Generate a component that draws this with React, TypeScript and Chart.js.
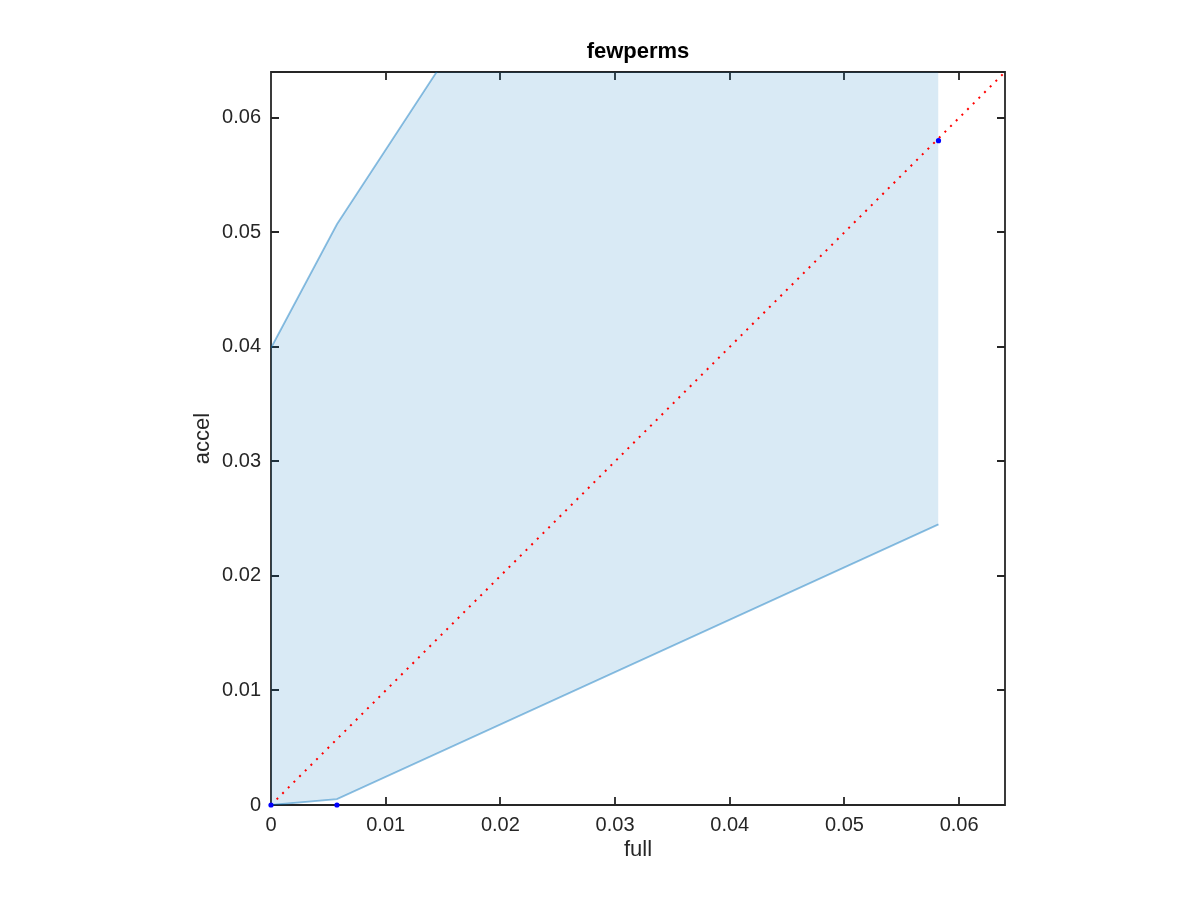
import React, { useEffect, useRef } from "react";
import { Chart, registerables } from "chart.js";

Chart.register(...registerables);

const TITLE = "fewperms";
const X_LABEL = "full";
const Y_LABEL = "accel";
const AXIS_MIN = 0;
const AXIS_MAX = 0.064;
const TICKS = [0, 0.01, 0.02, 0.03, 0.04, 0.05, 0.06];
const TICK_LABELS = ["0", "0.01", "0.02", "0.03", "0.04", "0.05", "0.06"];

// shaded band (upper and lower bounds)
const BAND_X = [0, 0.00575, 0.0582];
const BAND_UPPER = [0.0399, 0.0507, 0.131];
const BAND_LOWER = [0, 0.00052, 0.0245];

// blue markers
const POINT_X = [0, 0.00575, 0.0582];
const POINT_Y = [0, 0, 0.058];

// reference diagonal y = x
const DIAG_X = [0, 0.064];
const DIAG_Y = [0, 0.064];

const FONT = "'Liberation Sans', Arial, Helvetica, sans-serif";
const AXIS_COLOR = "#262626";

const boxPlugin = {
  id: "matlabBox",
  beforeDatasetsDraw(chart: any) {
    const { ctx, chartArea } = chart;
    const { left, right, top, bottom } = chartArea;
    const xs = chart.scales.x;
    const ys = chart.scales.y;
    const len = 8;
    ctx.save();
    ctx.strokeStyle = AXIS_COLOR;
    ctx.lineWidth = 1.8;
    ctx.beginPath();
    ctx.rect(left, top, right - left, bottom - top);
    TICKS.forEach((v) => {
      const px = Math.round(xs.getPixelForValue(v));
      ctx.moveTo(px, bottom);
      ctx.lineTo(px, bottom - len);
      ctx.moveTo(px, top);
      ctx.lineTo(px, top + len);
      const py = Math.round(ys.getPixelForValue(v));
      ctx.moveTo(left, py);
      ctx.lineTo(left + len, py);
      ctx.moveTo(right, py);
      ctx.lineTo(right - len, py);
    });
    ctx.stroke();
    ctx.restore();
  },
};

const titlePlugin = {
  id: "matlabTitle",
  afterDraw(chart: any) {
    const { ctx, chartArea } = chart;
    ctx.save();
    ctx.font = `bold 22px ${FONT}`;
    ctx.fillStyle = "#000000";
    ctx.textAlign = "center";
    ctx.textBaseline = "alphabetic";
    ctx.fillText(TITLE, (chartArea.left + chartArea.right) / 2, 58);
    ctx.restore();
  },
};

export default function App() {
  const canvasRef = useRef<HTMLCanvasElement | null>(null);

  useEffect(() => {
    const canvas = canvasRef.current;
    if (!canvas) return;
    const band = "rgba(0,114,189,0.45)";
    const chart = new Chart(canvas, {
      type: "scatter",
      data: {
        datasets: [
          {
            label: "points",
            data: POINT_X.map((x, i) => ({ x, y: POINT_Y[i] })),
            showLine: false,
            pointRadius: 2.6,
            pointBackgroundColor: "#0000ff",
            pointBorderColor: "#0000ff",
            pointBorderWidth: 0,
            clip: false,
            order: 0,
          },
          {
            label: "diag",
            data: DIAG_X.map((x, i) => ({ x, y: DIAG_Y[i] })),
            showLine: true,
            borderColor: "#ff0000",
            borderWidth: 2,
            borderDash: [2, 6],
            pointRadius: 0,
            fill: false,
            order: 1,
          },
          {
            label: "upper",
            data: BAND_X.map((x, i) => ({ x, y: BAND_UPPER[i] })),
            showLine: true,
            borderColor: band,
            borderWidth: 1.8,
            pointRadius: 0,
            backgroundColor: "rgba(0,114,189,0.15)",
            fill: 3,
            order: 3,
          },
          {
            label: "lower",
            data: BAND_X.map((x, i) => ({ x, y: BAND_LOWER[i] })),
            showLine: true,
            borderColor: band,
            borderWidth: 1.8,
            pointRadius: 0,
            fill: false,
            order: 2,
          },
        ],
      },
      options: {
        responsive: false,
        animation: false,
        devicePixelRatio: 1,
        layout: { padding: { top: 72, right: 195, bottom: 0, left: 0 } },
        plugins: {
          legend: { display: false },
          tooltip: { enabled: false },
          title: { display: false },
        },
        scales: {
          x: {
            type: "linear",
            min: AXIS_MIN,
            max: AXIS_MAX,
            grid: { display: false, drawTicks: false },
            border: { display: false },
            afterBuildTicks: (scale: any) => {
              scale.ticks = TICKS.map((v) => ({ value: v }));
            },
            afterFit: (scale: any) => {
              scale.height = 95;
            },
            ticks: {
              autoSkip: false,
              maxRotation: 0,
              padding: 8,
              color: AXIS_COLOR,
              font: { family: FONT, size: 20 },
              callback: (_v: any, i: number) => TICK_LABELS[i],
            },
            title: {
              display: true,
              text: X_LABEL,
              color: AXIS_COLOR,
              font: { family: FONT, size: 22 },
              padding: { top: 0, bottom: 37 },
            },
          },
          y: {
            type: "linear",
            min: AXIS_MIN,
            max: AXIS_MAX,
            grid: { display: false, drawTicks: false },
            border: { display: false },
            afterBuildTicks: (scale: any) => {
              scale.ticks = TICKS.map((v) => ({ value: v }));
            },
            afterFit: (scale: any) => {
              scale.width = 271;
            },
            ticks: {
              autoSkip: false,
              padding: 10,
              color: AXIS_COLOR,
              font: { family: FONT, size: 20 },
              callback: (_v: any, i: number) => TICK_LABELS[i],
            },
            title: {
              display: true,
              text: Y_LABEL,
              color: AXIS_COLOR,
              font: { family: FONT, size: 22 },
              padding: { top: 190, bottom: 0 },
            },
          },
        },
      },
      plugins: [boxPlugin, titlePlugin],
    } as any);
    return () => chart.destroy();
  }, []);

  return (
    <div style={{ position: "fixed", left: 0, top: 0, width: 1200, height: 900, background: "#ffffff" }}>
      <canvas ref={canvasRef} width={1200} height={900} style={{ width: 1200, height: 900, display: "block" }} />
    </div>
  );
}
